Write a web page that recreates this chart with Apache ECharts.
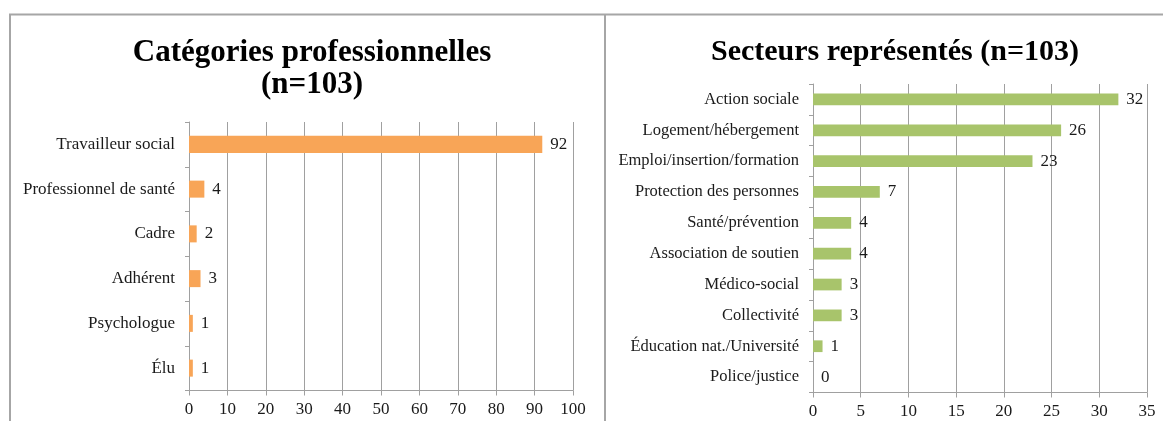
<!DOCTYPE html>
<html>
<head>
<meta charset="utf-8">
<script src="https://cdn.jsdelivr.net/npm/echarts@6/dist/echarts.min.js"></script>
<style>
html,body{margin:0;padding:0;background:#fff;}
#c{width:1163px;height:421px;}
</style>
</head>
<body>
<div id="c"></div>
<script>
const catsLeft = ["Travailleur social","Professionnel de santé","Cadre","Adhérent","Psychologue","Élu"];
const valsLeft = [92,4,2,3,1,1];
const catsRight = ["Action sociale","Logement/hébergement","Emploi/insertion/formation","Protection des personnes","Santé/prévention","Association de soutien","Médico-social","Collectivité","Éducation nat./Université","Police/justice"];
const valsRight = [32,26,23,7,4,4,3,3,1,0];
const titleLeft = "Catégories professionnelles\n(n=103)";
const titleRight = "Secteurs représentés (n=103)";

const FONT = "Liberation Serif";
const GRAY = "#a0a0a0";
const TXT = "#1a1a1a";

const chart = echarts.init(document.getElementById('c'), null, {renderer:'canvas'});

function valueAxis(idx, max, interval){
  return {
    type:'value', gridIndex: idx, min:0, max:max, interval:interval,
    axisLine:{show:true, lineStyle:{color:GRAY, width:1}},
    axisTick:{show:true, length:5, lineStyle:{color:GRAY}},
    splitLine:{show:true, lineStyle:{color:GRAY, width:1}},
    axisLabel:{color:TXT, fontFamily:FONT, fontSize:17, margin:11}
  };
}
function catAxis(idx, cats, size){
  return {
    type:'category', gridIndex: idx, data:cats, inverse:true,
    axisLine:{show:true, lineStyle:{color:GRAY, width:1}},
    axisTick:{show:true, length:4, alignWithLabel:false, lineStyle:{color:GRAY}},
    axisLabel:{color:TXT, fontFamily:FONT, fontSize:size, margin:14}
  };
}
function barSeries(idx, vals, color){
  return {
    type:'bar', xAxisIndex:idx, yAxisIndex:idx, data:vals,
    barCategoryGap:'62%',
    itemStyle:{color:color},
    label:{show:true, position:'right', distance:8, color:TXT, fontFamily:FONT, fontSize:17},
    animation:false
  };
}

chart.setOption({
  animation:false,
  title:[
    {text:titleLeft, left:307, top:32, textAlign:'center',
     textStyle:{fontFamily:FONT, fontWeight:'bold', fontSize:31, color:'#000', lineHeight:32}},
    {text:titleRight, left:890, top:31, textAlign:'center',
     textStyle:{fontFamily:FONT, fontWeight:'bold', fontSize:30, color:'#000', lineHeight:32}}
  ],
  grid:[
    {left:189, top:122, width:384, height:268.5, containLabel:false},
    {left:813, top:84, width:334, height:308.5, containLabel:false}
  ],
  xAxis:[valueAxis(0,100,10), valueAxis(1,35,5)],
  yAxis:[catAxis(0,catsLeft,17), catAxis(1,catsRight,16.5)],
  series:[barSeries(0,valsLeft,'#F8A557'), barSeries(1,valsRight,'#A8C46B')],
  graphic:[
    {type:'polyline', shape:{points:[[10,430],[10,14.5],[1170,14.5]]}, style:{stroke:'#a6a6a6', lineWidth:2, fill:null}, silent:true},
    {type:'line', shape:{x1:605,y1:14.5,x2:605,y2:430}, style:{stroke:'#a6a6a6', lineWidth:2}, silent:true}
  ]
});
</script>
</body>
</html>
